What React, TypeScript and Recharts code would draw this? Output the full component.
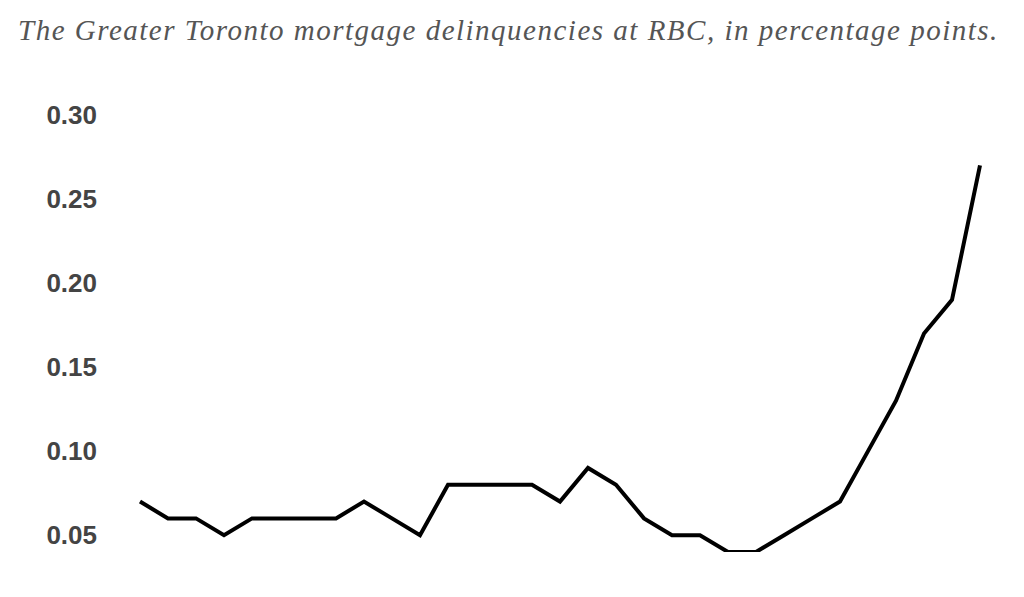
import React from 'react';
import { LineChart, Line, XAxis, YAxis } from 'recharts';

// Reporting periods (unlabelled in the source chart)
const periods = [
  'P1', 'P2', 'P3', 'P4', 'P5', 'P6', 'P7', 'P8', 'P9', 'P10',
  'P11', 'P12', 'P13', 'P14', 'P15', 'P16', 'P17', 'P18', 'P19', 'P20',
  'P21', 'P22', 'P23', 'P24', 'P25', 'P26', 'P27', 'P28', 'P29', 'P30', 'P31',
];

// Delinquency rate, percentage points
const delinquency = [
  0.07, 0.06, 0.06, 0.05, 0.06, 0.06, 0.06, 0.06, 0.07, 0.06,
  0.05, 0.08, 0.08, 0.08, 0.08, 0.07, 0.09, 0.08, 0.06, 0.05,
  0.05, 0.04, 0.04, 0.05, 0.06, 0.07, 0.10, 0.13, 0.17, 0.19, 0.27,
];

const yTicks = [0.05, 0.1, 0.15, 0.2, 0.25, 0.3];

const data = periods.map((p, i) => ({ period: p, value: delinquency[i] }));

export default function App() {
  return (
    <div
      style={{
        position: 'absolute',
        left: 0,
        top: 0,
        width: 1024,
        height: 597,
        background: '#fff',
      }}
    >
      <div
        style={{
          position: 'absolute',
          left: 18,
          top: 13,
          fontFamily: '"Liberation Serif", "DejaVu Serif", serif',
          fontStyle: 'italic',
          fontSize: 29,
          letterSpacing: 1.5,
          color: '#555',
          whiteSpace: 'nowrap',
          lineHeight: '34px',
        }}
      >
        The Greater Toronto mortgage delinquencies at RBC, in percentage points.
      </div>
      <LineChart
        width={1024}
        height={597}
        data={data}
        margin={{ top: 115, right: 44, bottom: 45, left: 0 }}
      >
        <XAxis dataKey="period" hide padding={{ left: 0, right: 0 }} />
        <YAxis
          width={140}
          domain={[0.04, 0.3]}
          ticks={yTicks}
          tickFormatter={(v: number) => v.toFixed(2)}
          axisLine={false}
          tickLine={false}
          tickSize={0}
          tickMargin={43}
          tick={{
            fill: '#444',
            fontSize: 26,
            fontWeight: 'bold',
            fontFamily: '"Liberation Sans", Arial, sans-serif',
          }}
          allowDataOverflow
        />
        <Line
          type="linear"
          dataKey="value"
          stroke="#000"
          strokeWidth={4}
          dot={false}
          isAnimationActive={false}
        />
      </LineChart>
    </div>
  );
}
